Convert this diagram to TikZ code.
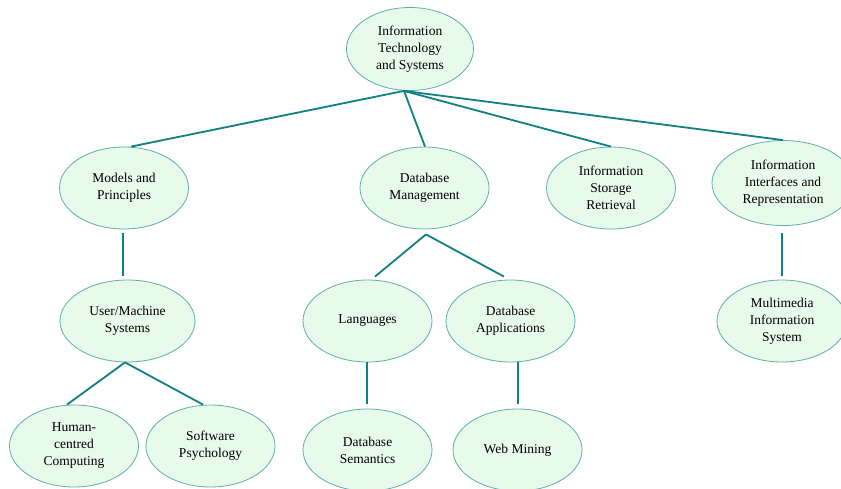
\documentclass[tikz,border=0pt]{standalone}
\usepackage{fontspec}
\setmainfont{Liberation Serif}
\usetikzlibrary{shapes.geometric,calc}
\definecolor{fillc}{HTML}{E8FAEA}
\definecolor{bordc}{HTML}{5EAEAE}
\definecolor{linec}{HTML}{108080}
\newcommand\nodefont{\fontsize{13.5}{17}\selectfont}
\tikzset{
  topic/.style={ellipse, draw=bordc, fill=fillc, line width=0.8pt,
    minimum width=129pt, minimum height=82pt, inner sep=0pt,
    align=center, font=\nodefont},
  link/.style={draw=linec, line width=1.8pt}
}
\begin{document}
\begin{tikzpicture}[x=1pt,y=-1pt]
\useasboundingbox[fill=white] (0,0) rectangle (841,488);
% nodes
\node[topic, minimum width=127pt, minimum height=83pt] (root) at (410,49) {Information\\Technology\\and Systems};
\node[topic] (models) at (124,188) {Models and\\Principles};
\node[topic] (dbm) at (424.5,188) {Database\\Management};
\node[topic] (isr) at (611,188) {Information\\Storage\\Retrieval};
\node[topic, minimum width=142pt, minimum height=85pt] (iir) at (783,183) {Information\\Interfaces and\\Representation};
\node[topic, minimum width=135pt] (ums) at (127.5,321) {User/Machine\\Systems};
\node[topic] (lang) at (367.5,321) {Languages};
\node[topic] (dba) at (510.5,321) {Database\\Applications};
\node[topic, minimum width=130pt] (mis) at (782,321) {Multimedia\\Information\\System};
\node[topic] (hcc) at (74,446) {Human-\\centred\\Computing};
\node[topic] (swp) at (210.5,446) {Software\\Psychology};
\node[topic] (dbs) at (367.5,450) {Database\\Semantics};
\node[topic] (web) at (517.5,450) {Web Mining};
% connectors
\draw[link] ($(root.south)+(-6,0)$) -- ($(models.north)+(7,0)$);
\draw[link] ($(root.south)+(-6,0)$) -- ($(dbm.north)+(0.5,0)$);
\draw[link] ($(root.south)+(-6,0)$) -- (isr.north);
\draw[link] ($(root.south)+(-6,0)$) -- (iir.north);
\draw[link] ($(models.south)+(-1,4)$) -- ($(models.south |- ums.north)+(-1,-4)$);
\draw[link] ($(dbm.south)+(1.5,5)$) -- ($(lang.north)+(7.5,-3)$);
\draw[link] ($(dbm.south)+(1.5,5)$) -- ($(dba.north)+(-6.5,-3)$);
\draw[link] ($(ums.south)+(-2.5,0)$) -- ($(hcc.north)+(-7,0)$);
\draw[link] ($(ums.south)+(-2.5,0)$) -- ($(swp.north)+(-7.5,0)$);
\draw[link] ($(iir.south)+(-1,7.5)$) -- ($(mis.north)+(0,-4)$);
\draw[link] ($(lang.south)+(-0.5,0)$) -- ($(dbs.north)+(-0.5,-5)$);
\draw[link] ($(dba.south -| web.north)+(0.5,0)$) -- ($(web.north)+(0.5,-5)$);
\end{tikzpicture}
\end{document}
